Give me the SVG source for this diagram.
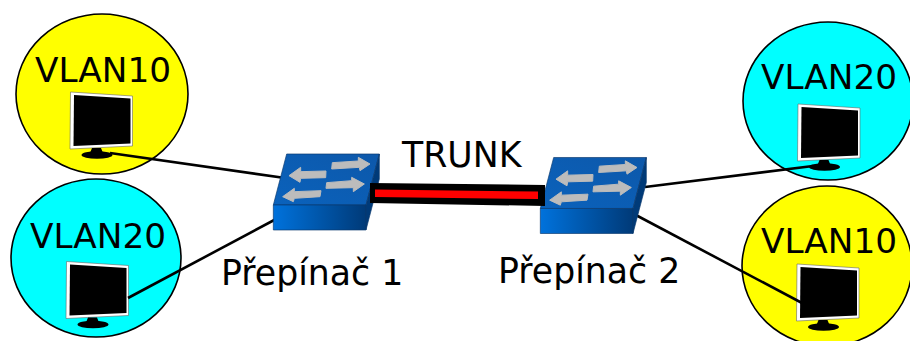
<svg xmlns="http://www.w3.org/2000/svg" width="910" height="341" viewBox="0 0 910 341">
<style>
.vlan{stroke:#000;stroke-width:1.6}
.y{fill:#ff0}
.c{fill:#0ff}
text{font-family:"DejaVu Sans",Verdana,sans-serif;fill:#000}
.v{font-size:34.300px}
.l{font-size:34.700px}
.wire{stroke:#000;stroke-width:2.600;fill:none}
.arrow{fill:#bcbcbc;stroke:#bcbcbc;stroke-width:3;stroke-linejoin:round}
</style>
<defs>
<linearGradient id="front" x1="0" x2="1" y1="0" y2="0"><stop offset="0" stop-color="#0072dc"/><stop offset="1" stop-color="#003a78"/></linearGradient>
<linearGradient id="top" x1="0" x2="1" y1="1" y2="0"><stop offset="0" stop-color="#0a62bc"/><stop offset="1" stop-color="#0d58aa"/></linearGradient>
<g id="monitor">
<polygon points="70.500,92 132.500,96 132.500,146 70,149" fill="#fff" stroke="#666" stroke-width=".6"/>
<polygon points="74,95 130.500,98.500 130.500,143.500 73.500,146" fill="#000"/>
<polygon points="92,148 101,148 103,153 90,153" fill="#000"/>
<ellipse cx="97" cy="155" rx="15.500" ry="3.800" fill="#000"/>
</g>
<g id="switch">
<polygon points="80,42 358,42 318,195 40,195" fill="url(#top)" stroke="#0b3a6e" stroke-width="2"/>
<polygon points="40,195 318,195 318,270 40,270" fill="url(#front)" stroke="#0b3a6e" stroke-width="2"/>
<polygon points="318,195 358,42 358,117 318,270" fill="#003a78" stroke="#0b3a6e" stroke-width="2"/>
<polygon class="arrow" points="217,68 295,63 295,52 330,72 300,92 298,82 215,87"/>
<polygon class="arrow" points="200,128 275,122 275,112 313,132 280,155 280,143 198,145"/>
<polygon class="arrow" points="87,107 122,82 122,95 198,93 197,113 122,115 120,127"/>
<polygon class="arrow" points="68,170 103,145 103,155 183,152 180,170 103,175 100,185"/>
</g>
</defs>

<g id="vlan10-left">
<ellipse class="vlan y" cx="102" cy="94" rx="86" ry="80"/>
<text class="v" x="35" y="82">VLAN10</text>
<use href="#monitor"/>
</g>
<g id="vlan20-left">
<ellipse class="vlan c" cx="96" cy="258" rx="85" ry="79"/>
<text class="v" x="30" y="248">VLAN20</text>
<use href="#monitor" transform="translate(-4,169.500)"/>
</g>
<g id="vlan20-right">
<ellipse class="vlan c" cx="828" cy="101" rx="85" ry="79"/>
<text class="v" x="761" y="89">VLAN20</text>
<use href="#monitor" transform="translate(727.500,12)"/>
</g>
<g id="vlan10-right">
<ellipse class="vlan y" cx="827" cy="266" rx="85" ry="80"/>
<text class="v" x="761" y="253">VLAN10</text>
<use href="#monitor" transform="translate(726.500,172)"/>
</g>

<g id="connectors">
<line class="wire" x1="110" y1="153" x2="285" y2="178"/>
<line class="wire" x1="128" y1="298" x2="278" y2="218"/>
<line class="wire" x1="645" y1="187" x2="813" y2="166"/>
<line class="wire" x1="632" y1="213" x2="802" y2="303"/>
</g>

<g id="switch1"><use href="#switch" transform="translate(260,140) scale(.33333)"/>
<text class="l" x="221" y="285">Přepínač 1</text></g>
<g id="switch2"><use href="#switch" transform="translate(527,143.500) scale(.33333)"/>
<text class="l" x="498" y="283">Přepínač 2</text></g>

<g id="trunk">
<polygon points="370,183 545,185 545,206 370,203" fill="#000"/>
<polygon points="375,189.500 538,191.500 538,199 375,197" fill="#f00"/>
<text class="l" x="402" y="167">TRUNK</text>
</g>
</svg>
